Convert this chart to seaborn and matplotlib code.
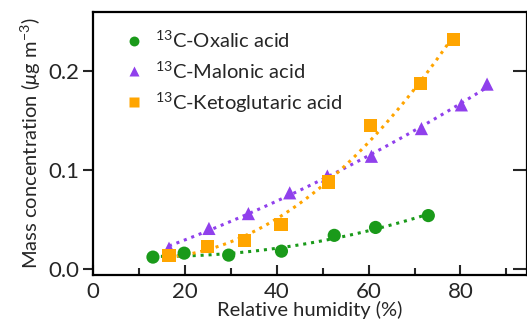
import numpy as np
import pandas as pd
import matplotlib
matplotlib.use("Agg")
import matplotlib.pyplot as plt
import seaborn as sns
from matplotlib.ticker import MultipleLocator

sns.set_theme(style="white")
plt.rcParams['font.family'] = ['Lato', 'DejaVu Sans']
plt.rcParams['mathtext.fontset'] = 'custom'
plt.rcParams['mathtext.rm'] = 'Lato'
plt.rcParams['mathtext.it'] = 'Lato:italic'

oxalic_rh = [13.0, 19.8, 29.5, 41.0, 52.5, 61.5, 73.0]
oxalic_mc = [0.012, 0.016, 0.014, 0.018, 0.034, 0.042, 0.054]
malonic_rh = [16.5, 25.2, 33.8, 42.8, 51.0, 60.6, 71.5, 80.2, 85.8]
malonic_mc = [0.021, 0.041, 0.056, 0.077, 0.094, 0.114, 0.142, 0.166, 0.187]
keto_rh = [16.5, 24.8, 33.0, 40.9, 51.3, 60.4, 71.3, 78.5]
keto_mc = [0.014, 0.023, 0.029, 0.045, 0.088, 0.145, 0.188, 0.232]

labels = ["$^{13}$C-Oxalic acid", "$^{13}$C-Malonic acid", "$^{13}$C-Ketoglutaric acid"]
colors = ["#1a9a1a", "#9040ec", "#ffa500"]
markers = ["o", "^", "s"]

df = pd.concat([
    pd.DataFrame({"rh": oxalic_rh, "mc": oxalic_mc, "species": labels[0]}),
    pd.DataFrame({"rh": malonic_rh, "mc": malonic_mc, "species": labels[1]}),
    pd.DataFrame({"rh": keto_rh, "mc": keto_mc, "species": labels[2]}),
])

fig = plt.figure(figsize=(5.27, 3.32), dpi=100)
ax = fig.add_axes([0.177, 0.172, 0.823, 0.792])

# quadratic fit curves (dotted)
for lab, col in zip(labels, colors):
    sub = df[df.species == lab]
    coef = np.polyfit(sub.rh, sub.mc, 2)
    xs = np.linspace(sub.rh.min(), sub.rh.max(), 100)
    sns.lineplot(x=xs, y=np.polyval(coef, xs), ax=ax, color=col, linestyle=(0, (1, 1.6)),
                 linewidth=2.2, legend=False)

sns.scatterplot(data=df, x="rh", y="mc", hue="species", style="species",
                palette=dict(zip(labels, colors)), markers=dict(zip(labels, markers)),
                s=90, edgecolor="none", ax=ax, zorder=5)

ax.set_xlim(0, 94.5)
ax.set_ylim(-0.006, 0.26)
ax.xaxis.set_major_locator(MultipleLocator(20))
ax.xaxis.set_minor_locator(MultipleLocator(10))
ax.yaxis.set_major_locator(MultipleLocator(0.1))
ax.yaxis.set_major_formatter(matplotlib.ticker.FormatStrFormatter('%.1f'))

for s in ax.spines.values():
    s.set_linewidth(1.6)
    s.set_color("black")

ax.tick_params(axis='x', which='major', direction='in', length=7, width=1.5,
               labelsize=16, pad=5, bottom=True, top=False)
ax.tick_params(axis='x', which='minor', direction='in', length=5, width=1.5, bottom=True, top=False)
ax.tick_params(axis='y', which='major', direction='out', length=7, width=1.5,
               labelsize=16, left=True, right=False, pad=3)
ax2 = ax.secondary_yaxis('right')
ax2.yaxis.set_major_locator(MultipleLocator(0.1))
ax2.tick_params(axis='y', direction='in', length=10, width=1.5, labelright=False)

ax.set_xlabel("Relative humidity (%)", fontsize=14.5, labelpad=-1)
ax.set_ylabel("Mass concentration ($\\mu$g m$^{-3}$)", fontsize=14.5, labelpad=4)

leg = ax.legend(loc="upper left", frameon=False, fontsize=14.5, handletextpad=0.05,
                labelspacing=0.45, borderaxespad=0.3, markerscale=0.75,
                bbox_to_anchor=(0.015, 0.985))

fig.savefig("out.png", dpi=100)
